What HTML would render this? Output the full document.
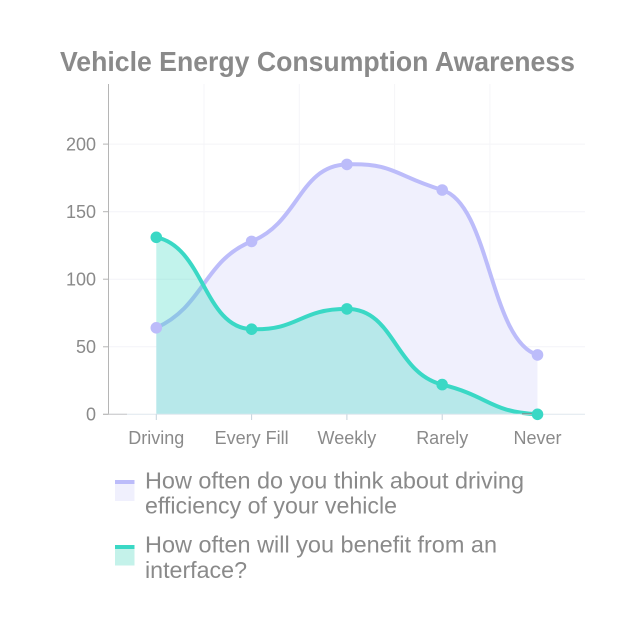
<!DOCTYPE html>
<html>
<head>
<meta charset="utf-8">
<style>
  html, body { margin: 0; padding: 0; background: #ffffff; }
  svg { display: block; }
  text { font-family: "Liberation Sans", "DejaVu Sans", sans-serif; }
</style>
</head>
<body>
<svg width="640" height="640" viewBox="0 0 640 640" xmlns="http://www.w3.org/2000/svg">
  <rect x="0" y="0" width="640" height="640" fill="#ffffff"/>

  <!-- Title -->
  <text x="60" y="71" font-size="28" font-weight="bold" fill="#8a8a8a" textLength="515" lengthAdjust="spacingAndGlyphs">Vehicle Energy Consumption Awareness</text>

  <!-- horizontal gridlines -->
  <g stroke="#f4f4f8" stroke-width="1">
    <line x1="108.5" y1="346.8" x2="585" y2="346.8"/>
    <line x1="108.5" y1="279.2" x2="585" y2="279.2"/>
    <line x1="108.5" y1="211.7" x2="585" y2="211.7"/>
    <line x1="108.5" y1="144.1" x2="585" y2="144.1"/>
  </g>
  <!-- vertical gridlines -->
  <g stroke="#f5f5f8" stroke-width="1">
    <line x1="204" y1="84" x2="204" y2="414"/>
    <line x1="299.3" y1="84" x2="299.3" y2="414"/>
    <line x1="394.6" y1="84" x2="394.6" y2="414"/>
    <line x1="489.9" y1="84" x2="489.9" y2="414"/>
  </g>

  <!-- Purple series fill -->
  <path d="M156.3,327.8 C203.95,306.36 203.95,260.46 251.6,241.4 C299.25,222.34 299.25,165.83 346.9,164.4 C394.55,162.97 394.55,175.7 442.2,190.0 C489.85,204.3 489.85,340.6 537.5,354.9 L537.5,414.3 L156.3,414.3 Z" fill="#f0f0fd"/>
  <!-- Purple line -->
  <path d="M156.3,327.8 C203.95,306.36 203.95,260.46 251.6,241.4 C299.25,222.34 299.25,165.83 346.9,164.4 C394.55,162.97 394.55,175.7 442.2,190.0 C489.85,204.3 489.85,340.6 537.5,354.9" fill="none" stroke="#bcbcfa" stroke-width="4" stroke-linecap="round"/>

  <!-- Teal series fill -->
  <path d="M156.3,237.3 C203.95,246.83 203.95,327.77 251.6,329.2 C299.25,330.63 299.25,308.9 346.9,308.9 C394.55,308.9 394.55,372.69 442.2,384.6 C489.85,396.51 489.85,411.92 537.5,414.3 L156.3,414.3 Z" fill="rgba(52,214,192,0.30)"/>
  <!-- Teal line -->
  <path d="M156.3,237.3 C203.95,246.83 203.95,327.77 251.6,329.2 C299.25,330.63 299.25,308.9 346.9,308.9 C394.55,308.9 394.55,372.69 442.2,384.6 C489.85,396.51 489.85,411.92 537.5,414.3" fill="none" stroke="#3ad8c5" stroke-width="4" stroke-linecap="round"/>

  <!-- axes -->
  <line x1="108.5" y1="84" x2="108.5" y2="414.3" stroke="#b5b5b5" stroke-width="1"/>
  <line x1="108.5" y1="414.3" x2="585" y2="414.3" stroke="#dfe7ee" stroke-width="1"/>
  <line x1="103" y1="414.3" x2="127" y2="414.3" stroke="#c8c8c8" stroke-width="1"/>
  <line x1="522" y1="413.8" x2="537" y2="413.8" stroke="#8a8a8a" stroke-width="1"/>
  <!-- y ticks -->
  <g stroke="#b5b5b5" stroke-width="1">
    <line x1="103" y1="414.3" x2="108.5" y2="414.3"/>
    <line x1="103" y1="346.8" x2="108.5" y2="346.8"/>
    <line x1="103" y1="279.2" x2="108.5" y2="279.2"/>
    <line x1="103" y1="211.7" x2="108.5" y2="211.7"/>
    <line x1="103" y1="144.1" x2="108.5" y2="144.1"/>
  </g>
  <!-- x ticks -->
  <g stroke="#c5d3dc" stroke-width="1">
    <line x1="156.3" y1="414.3" x2="156.3" y2="420"/>
    <line x1="251.6" y1="414.3" x2="251.6" y2="420"/>
    <line x1="346.9" y1="414.3" x2="346.9" y2="420"/>
    <line x1="442.2" y1="414.3" x2="442.2" y2="420"/>
    <line x1="537.5" y1="414.3" x2="537.5" y2="420"/>
  </g>

  <!-- markers -->
  <g fill="#bcbcfa">
    <circle cx="156.3" cy="327.8" r="5.8"/>
    <circle cx="251.6" cy="241.4" r="5.8"/>
    <circle cx="346.9" cy="164.4" r="5.8"/>
    <circle cx="442.2" cy="190.0" r="5.8"/>
    <circle cx="537.5" cy="354.9" r="5.8"/>
  </g>
  <g fill="#3ad8c5">
    <circle cx="156.3" cy="237.3" r="5.8"/>
    <circle cx="251.6" cy="329.2" r="5.8"/>
    <circle cx="346.9" cy="308.9" r="5.8"/>
    <circle cx="442.2" cy="384.6" r="5.8"/>
    <circle cx="537.5" cy="414.3" r="5.8"/>
  </g>

  <!-- y labels -->
  <g font-size="18" fill="#8a8a8a" text-anchor="end">
    <text x="96" y="420.6">0</text>
    <text x="96" y="353.1">50</text>
    <text x="96" y="285.5">100</text>
    <text x="96" y="218">150</text>
    <text x="96" y="150.4">200</text>
  </g>

  <!-- x labels -->
  <g font-size="18" fill="#8a8a8a" text-anchor="middle">
    <text x="156.3" y="444">Driving</text>
    <text x="251.6" y="444">Every Fill</text>
    <text x="346.9" y="444">Weekly</text>
    <text x="442.2" y="444">Rarely</text>
    <text x="537.5" y="444">Never</text>
  </g>

  <!-- legend -->
  <rect x="115" y="484" width="19.5" height="17" fill="#f0f0fd"/>
  <rect x="115" y="480" width="19.5" height="4" fill="#bcbcfa"/>
  <text x="145" y="488.3" font-size="23" fill="#8a8a8a" textLength="379" lengthAdjust="spacingAndGlyphs">How often do you think about driving</text>
  <text x="145" y="513.3" font-size="23" fill="#8a8a8a" textLength="252" lengthAdjust="spacingAndGlyphs">efficiency of your vehicle</text>

  <rect x="115" y="549" width="19.5" height="16.5" fill="#c4f2ea"/>
  <rect x="115" y="545" width="19.5" height="4" fill="#3ad8c5"/>
  <text x="145" y="552.7" font-size="23" fill="#8a8a8a" textLength="352" lengthAdjust="spacingAndGlyphs">How often will you benefit from an</text>
  <text x="145" y="578" font-size="23" fill="#8a8a8a" textLength="102" lengthAdjust="spacingAndGlyphs">interface?</text>
</svg>
</body>
</html>
